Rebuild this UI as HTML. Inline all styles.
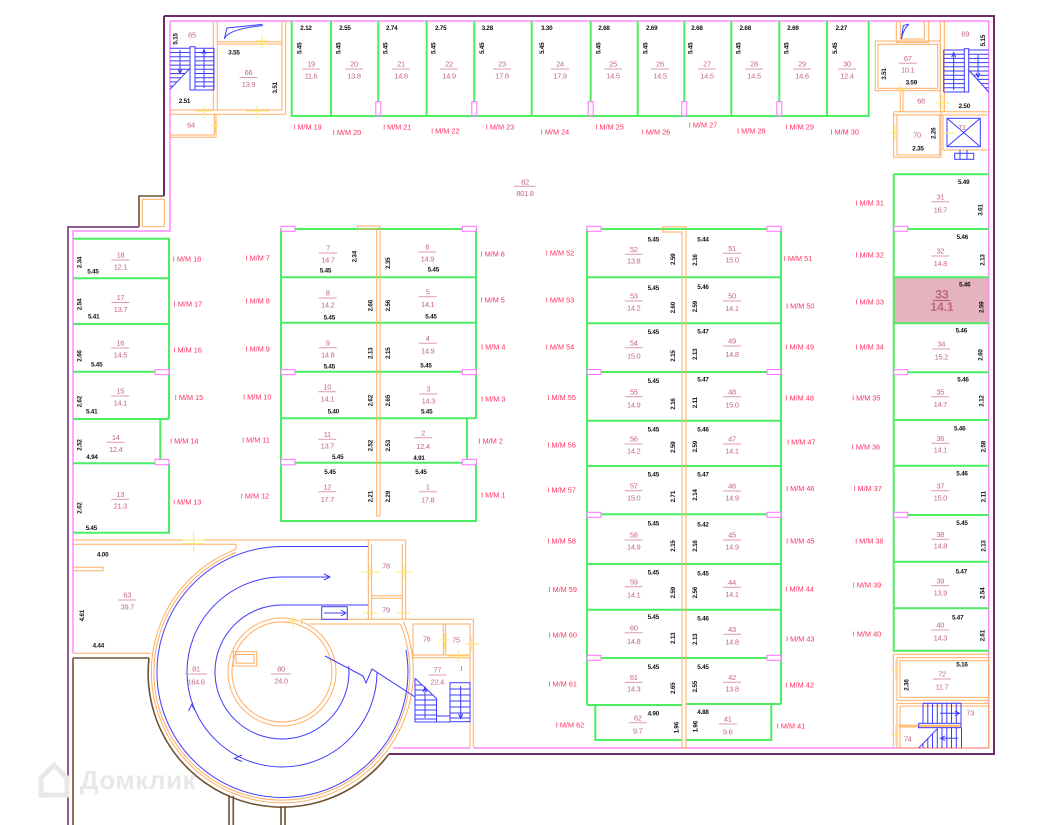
<!DOCTYPE html>
<html><head><meta charset="utf-8"><style>
html,body{margin:0;padding:0;background:#fff}
svg{display:block}
text{font-family:"Liberation Sans",Arial,sans-serif}
.n{font-size:7.5px;fill:#c4668a;text-anchor:middle;letter-spacing:-0.3px}
.m{font-size:7.3px;fill:#ff2d5f;text-anchor:middle}
.d{font-size:6.3px;font-weight:bold;fill:#111;text-anchor:middle;letter-spacing:-0.2px}
.L path{stroke:#dc9ab0;stroke-width:1;fill:none}
.g{stroke:#4ced63;stroke-width:2;fill:none}
.p{stroke:#ff88ff;stroke-width:1.5;fill:none}
.o{stroke:#ffae62;stroke-width:1;fill:none}
.b{stroke:#3c3cff;stroke-width:1;fill:none}
.y{stroke:#ffe870;stroke-width:1;fill:none}
.w{stroke:#6b2a64;stroke-width:2;fill:none}
.br{stroke:#6e5232;stroke-width:1.6;fill:none}
.pc{fill:#fff;stroke:#ff70ff;stroke-width:1}
</style></head><body>
<svg width="1037" height="825" viewBox="0 0 1037 825" xmlns="http://www.w3.org/2000/svg">
<rect width="1037" height="825" fill="#fff"/>

<!-- highlighted stall 33 -->
<rect x="893.7" y="277.3" width="95" height="46" fill="#e4b3bf"/>

<!-- outer walls -->
<path class="w" d="M164,16H994V754H389"/>
<path class="w" d="M164,16V196"/>
<path class="br" d="M164,196H139V227"/>
<path class="w" d="M139,227H68V825" style="stroke:#8e5f8e"/>
<path class="br" d="M149,658A134,134 0 0,0 389,754"/>
<path class="br" d="M73,658H149M73,658V825M229,795V825M233.3,796V825M281,806V825M285,806V825"/>

<!-- pink inner line -->
<path class="p" d="M170,21H988.7V748H474M470,748H393"/>
<path class="p" d="M170,21V231H73V653"/>

<!-- green stalls -->
<path class="g" d="M291.7,21V116H868.7V21M331,21V116M378.3,21V116M426.7,21V116M474.3,21V116M531.7,21V116M590.7,21V116M637.7,21V116M684.3,21V116M731.3,21V116M779.3,21V116M827,21V116"/>
<path class="g" d="M73,238.7H169V419M73,278.3H169M73,324H169M73,371.7H169M73,419H169M160.3,419V463.3M73,463.3H160.3M169,463.3V532.7H73"/>
<path class="g" d="M281,229H476V418.3M281,229V521H476V462.7M281,277.3H476M281,322.7H476M281,371.7H476M281,418.3H476M467,418.3V462.7M281,462.7H476"/>
<path class="g" d="M587,229H781V704M587,229V705M587,277.3H781M587,323.3H781M587,372H781M587,420.7H781M587,466H781M587,514.3H781M587,564H781M587,609.7H781M587,658H781M587,705H682M686,704H781M595.3,705V740H682M686,740H771.3V704"/>
<path class="g" d="M893.7,174.3H988.7M893.7,174.3V650.7H988.7M893.7,229H988.7M893.7,277.3H988.7M893.7,323.3H988.7M893.7,372.3H988.7M893.7,420H988.7M893.7,465.7H988.7M893.7,515H988.7M893.7,561.7H988.7M893.7,608.3H988.7"/>

<!-- orange center walls -->
<path class="o" fill="#fff" d="M357.7,229.3V226H380V516H376.7V229.3Z"/>
<path class="o" fill="#fff" d="M662.7,232V226.7H686V748H682V232Z"/>

<!-- pink columns -->
<g class="pc">
<rect x="155" y="369.7" width="14" height="5"/><rect x="155" y="459.3" width="14" height="5.5"/>
<rect x="281" y="226.3" width="14" height="5"/><rect x="462.3" y="226.3" width="14" height="5"/>
<rect x="281" y="369.7" width="14" height="5"/><rect x="281" y="459.3" width="14" height="5.5"/>
<rect x="462.3" y="369.7" width="14" height="5"/><rect x="462.3" y="459.3" width="14" height="5.5"/>
<rect x="587" y="226.3" width="14" height="5"/><rect x="767" y="226.3" width="14" height="5"/>
<rect x="587" y="369.5" width="14" height="5"/><rect x="767" y="369.5" width="14" height="5"/>
<rect x="587" y="512.3" width="14" height="5"/><rect x="767" y="512.3" width="14" height="5"/>
<rect x="587" y="655.3" width="14" height="5"/><rect x="767" y="655.3" width="14" height="5"/>
<rect x="893.7" y="226.3" width="14" height="5"/><rect x="893.7" y="369.7" width="14" height="5"/><rect x="893.7" y="512.3" width="14" height="5"/>
<rect x="375.8" y="101.7" width="5" height="14"/><rect x="471.8" y="101.7" width="5" height="14"/>
<rect x="588.2" y="101.7" width="5" height="14"/><rect x="681.8" y="101.7" width="5" height="14"/><rect x="776.8" y="101.7" width="5" height="14"/>
</g>

<!-- top-left rooms -->
<path class="o" d="M213.3,21V110M217.3,21V110M170,110H282M170,114.3H285.7M285.7,21V114.3M282,21V110M217.3,41.7H282M217.3,44H282M170,135H214.3V114.3M170,137.3H216V114.3"/>
<rect class="o" x="142.3" y="199.3" width="22" height="27.4"/>
<path class="b" d="M224.3,39L227,28L262.7,24.3M224.3,39Q228,29 262.7,25.6"/>
<!-- stairs 65 -->
<g class="b">
<path d="M170,48.3H190M170,52.5H190M170,56.7H190M170,60.9H190M170,65.1H190M170,69.3H189M170,73.5H185M170,77.7H181M170,81.9H177M170,86.1H173M170,89.3L190,68.3"/>
<rect x="190" y="46.7" width="5" height="43.3"/>
<path d="M195,48.3H214M195,52.5H214M195,56.7H214M195,60.9H214M195,65.1H214M195,69.3H214M195,73.5H214M195,77.7H214M195,81.9H214M195,86.1H214M195,90H214M214,48.3V90M195,48.3V90"/>
<path d="M180,50V73M178,69L180,73.5L182,69M204,88V50M202,54L204,49.5L206,54"/>
</g>

<!-- top-right rooms -->
<path class="o" d="M896.3,21V42.3H928.7V21M900.3,21V39H924.3V21M940.3,21V111.7M944.3,21V111.7M900.3,90.7V111.7M903,90.7V111.7M893.7,111.7H988.7M893.7,115H988.7M893.7,111.7V157.3H941V111.7M943,115V150H988.7"/>
<rect class="o" x="875.3" y="41" width="65" height="49.7"/>
<rect class="o" x="878" y="44.3" width="59.7" height="44"/>
<rect class="o" x="897" y="115" width="42.7" height="40"/>
<path class="b" d="M901.3,39L903.3,25.7L908.7,24M901.3,39Q904,28 908.7,24.6"/>
<g class="b">
<rect x="947" y="118.3" width="33.3" height="28.4"/>
<path d="M947,118.3L980.3,146.7M980.3,118.3L947,146.7"/>
<rect x="954.7" y="153.3" width="19" height="6"/>
<path d="M960,150V159M967,150V159"/>
</g>
<!-- stairs 69 -->
<g class="b">
<path d="M943.7,50H964.3M943.7,54.2H964.3M943.7,58.4H964.3M943.7,62.6H964.3M943.7,66.8H964.3M943.7,71H964.3M943.7,75.2H964.3M943.7,79.4H964.3M943.7,83.6H964.3M943.7,87.8H964.3M943.7,92H964.3M943.7,50V92"/>
<rect x="964.3" y="48.7" width="4.4" height="43.3"/>
<path d="M968.7,50H988.7M968.7,54.2H988.7M968.7,58.4H988.7M968.7,62.6H988.7M968.7,66.8H988.7M969.6,71H988.7M973.5,75.2H988.7M977.4,79.4H988.7M981.2,83.6H988.7M985.1,87.8H988.7M968.7,70L988.7,92"/>
<path d="M953.7,90V53M951.7,57L953.7,52.5L955.7,57M978,55V77M976,73L978,77.5L980,73"/>
</g>

<!-- bottom-right rooms -->
<path class="o" d="M893.3,654.3H988.7M893.3,654.3V748M900,706V748M900,706H988.7"/>
<rect class="o" x="897" y="657.7" width="91.7" height="42.6"/>
<rect class="o" x="900" y="660.7" width="88.7" height="36.6"/>
<rect class="o" x="897" y="703.3" width="91.7" height="44.7"/>
<rect x="898.7" y="724.6" width="62.3" height="3" fill="#ffbd78"/>
<g class="b">
<path d="M923,703.3H961V723.3M923,703.3V723.3M927.8,703.3V723.3M932.5,703.3V723.3M937.3,703.3V723.3M942,703.3V723.3M946.8,703.3V723.3M951.5,703.3V723.3M956.3,703.3V723.3"/>
<rect x="918.7" y="723.3" width="42.3" height="4.4"/>
<path d="M918.7,748L937.7,728.3M923,743.5V748M927.8,738.6V748M932.5,733.7V748M937.3,728.7V748M942,727.7V748M946.8,727.7V748M951.5,727.7V748M956.3,727.7V748M961.5,727.7V748"/>
<path d="M940,713.3H959M955,711L959.5,713.3L955,715.6M958,738.3H941M945,736L940.5,738.3L945,740.6"/>
</g>

<!-- bottom-left: room 63, ring, 75-79 -->
<path class="o" d="M73,540H405.7M73,544.3H236V549.3M73,653.3H151M73,567.3H103V570.7H73"/>
<path class="o" d="M368.3,540V619.3M371.7,544.3V619.3M402.3,544.3V619.3M405.7,540V619.3M371.7,595.7H402.3M371.7,598.3H402.3"/>
<path class="o" d="M301.7,624V619.3H473.3V748M309.3,624H400.5M413,624H470V748M413,624V659M443.3,624V655M445.7,624V655M413,655H470M413,657.7H470"/>
<path class="o" d="M236,549.3A131,131 0 1,0 403.5,622"/>
<path class="o" d="M236,552.6A128,128 0 1,0 400.5,624"/>
<circle class="o" cx="282" cy="672" r="54"/>
<circle class="o" cx="282" cy="672" r="50"/>
<rect class="o" x="233.3" y="651.7" width="23.4" height="14.3"/>
<rect class="o" x="236" y="654.5" width="18" height="8.7"/>
<!-- ramp arrows -->
<g class="b">
<path d="M368,546.5H282A125.5,125.5 0 1,0 406,650"/>
<path d="M330,577H282A95,95 0 1,0 377,672"/>
<path d="M324,574L330,577L324,580"/>
<path d="M368,605H282A67,67 0 1,0 348.7,666"/>
<rect x="321.7" y="606.7" width="25.6" height="12.6"/>
<path d="M324,613H346M341,610L346,613L341,616"/>
<path d="M325,656L363,676L366,683L372,669L415,697"/>
<path d="M188.5,711L191.7,704.5L194.5,710M242,755L234.5,758.5L242,761.5"/>
</g>
<!-- stairs 77 -->
<g class="b">
<path d="M415,678.3L436.5,698.5V722H415V678.3M415,685H422M415,690H427.5M415,695H432.8M415,700H436.5M415,705H436.5M415,710H436.5M415,715H436.5M415,719H436.5"/>
<path d="M425,718V688M423,692L425,687L427,692"/>
<rect x="450" y="682.7" width="20" height="39"/>
<path d="M450,689H470M450,695H470M450,701H470M450,707H470M450,713H470M450,718H470M436.5,716H450M436.5,722H450"/>
<path d="M460.7,686V718M458.7,714L460.7,718.5L462.7,714"/>
</g>

<!-- yellow door marks -->
<path class="y" d="M255,41H268M255,43.5H268M262,36V48M196,111H213M204,106V118M246,111H270M257,106V118M211,126H219M215,121V132M895,89H905M900,84V95M935,103H950M942,95V112M889,133H900M895,125V140M940,133H955M891,670H900M895.7,660V680M891,735H900M895.7,725V745M361,572H380M395,572H413M370,566V578M404,566V578M363,613H378M397,613H410M286.7,621H301.7M293,616V628M440,640H450M444.5,633V650M465,644H480M471.8,635V652M448,656H468M458,650V662M183,540H204M183,543.5H204M193.7,531V553"/>

<!-- watermark -->
<path d="M41,795V778L54,765L67,778V795Z" fill="none" stroke="#e8e8e8" stroke-width="5"/>
<text x="80" y="789" style="font-size:26px;font-weight:bold;fill:#e8e8e8;letter-spacing:0.5px">Домклик</text>

<!-- ============ TEXT ============ -->
<!-- stall labels -->
<g class="L">
<g transform="translate(311,64)"><text class="n" y="2.7">19</text><path d="M-9,5h18"/><text class="n" y="14.7">11.6</text></g>
<g transform="translate(354,64)"><text class="n" y="2.7">20</text><path d="M-9,5h18"/><text class="n" y="14.7">13.8</text></g>
<g transform="translate(401,64)"><text class="n" y="2.7">21</text><path d="M-9,5h18"/><text class="n" y="14.7">14.8</text></g>
<g transform="translate(449,64)"><text class="n" y="2.7">22</text><path d="M-9,5h18"/><text class="n" y="14.7">14.9</text></g>
<g transform="translate(502,64)"><text class="n" y="2.7">23</text><path d="M-9,5h18"/><text class="n" y="14.7">17.8</text></g>
<g transform="translate(560,64)"><text class="n" y="2.7">24</text><path d="M-9,5h18"/><text class="n" y="14.7">17.9</text></g>
<g transform="translate(613,64)"><text class="n" y="2.7">25</text><path d="M-9,5h18"/><text class="n" y="14.7">14.5</text></g>
<g transform="translate(660,64)"><text class="n" y="2.7">26</text><path d="M-9,5h18"/><text class="n" y="14.7">14.5</text></g>
<g transform="translate(707,64)"><text class="n" y="2.7">27</text><path d="M-9,5h18"/><text class="n" y="14.7">14.5</text></g>
<g transform="translate(754,64)"><text class="n" y="2.7">28</text><path d="M-9,5h18"/><text class="n" y="14.7">14.5</text></g>
<g transform="translate(802,64)"><text class="n" y="2.7">29</text><path d="M-9,5h18"/><text class="n" y="14.7">14.6</text></g>
<g transform="translate(847,64)"><text class="n" y="2.7">30</text><path d="M-9,5h18"/><text class="n" y="14.7">12.4</text></g>

<g transform="translate(120.5,255)"><text class="n" y="2.7">18</text><path d="M-9,5h18"/><text class="n" y="14.7">12.1</text></g>
<g transform="translate(120.5,297.5)"><text class="n" y="2.7">17</text><path d="M-9,5h18"/><text class="n" y="14.7">13.7</text></g>
<g transform="translate(120.3,343)"><text class="n" y="2.7">16</text><path d="M-9,5h18"/><text class="n" y="14.7">14.5</text></g>
<g transform="translate(120.3,391)"><text class="n" y="2.7">15</text><path d="M-9,5h18"/><text class="n" y="14.4">14.1</text></g>
<g transform="translate(115.7,437.3)"><text class="n" y="2.7">14</text><path d="M-9,5h18"/><text class="n" y="14.7">12.4</text></g>
<g transform="translate(120.3,494.3)"><text class="n" y="2.7">13</text><path d="M-9,5h18"/><text class="n" y="14.1">21.3</text></g>

<g transform="translate(328,248)"><text class="n" y="2.7">7</text><path d="M-9,5h18"/><text class="n" y="14.7">14.7</text></g>
<g transform="translate(327.7,293)"><text class="n" y="2.7">8</text><path d="M-9,5h18"/><text class="n" y="14.7">14.2</text></g>
<g transform="translate(327.7,342.7)"><text class="n" y="2.7">9</text><path d="M-9,5h18"/><text class="n" y="15">14.8</text></g>
<g transform="translate(327.3,386.7)"><text class="n" y="2.7">10</text><path d="M-9,5h18"/><text class="n" y="15">14.1</text></g>
<g transform="translate(327.3,434.3)"><text class="n" y="2.7">11</text><path d="M-9,5h18"/><text class="n" y="14.4">13.7</text></g>
<g transform="translate(327.3,486.7)"><text class="n" y="2.7">12</text><path d="M-9,5h18"/><text class="n" y="15.3">17.7</text></g>
<g transform="translate(427.3,247)"><text class="n" y="2.7">6</text><path d="M-9,5h18"/><text class="n" y="14.7">14.9</text></g>
<g transform="translate(427.7,291.7)"><text class="n" y="2.7">5</text><path d="M-9,5h18"/><text class="n" y="15.3">14.1</text></g>
<g transform="translate(427.7,338.3)"><text class="n" y="2.7">4</text><path d="M-9,5h18"/><text class="n" y="15.4">14.9</text></g>
<g transform="translate(428.3,389)"><text class="n" y="2.7">3</text><path d="M-9,5h18"/><text class="n" y="14.7">14.3</text></g>
<g transform="translate(423,432.7)"><text class="n" y="2.7">2</text><path d="M-9,5h18"/><text class="n" y="16.3">12.4</text></g>
<g transform="translate(427.7,486.7)"><text class="n" y="2.7">1</text><path d="M-9,5h18"/><text class="n" y="16">17.8</text></g>

<g transform="translate(633.7,249.3)"><text class="n" y="2.7">52</text><path d="M-9,5h18"/><text class="n" y="14.4">13.8</text></g>
<g transform="translate(633.7,296)"><text class="n" y="2.7">53</text><path d="M-9,5h18"/><text class="n" y="14.4">14.2</text></g>
<g transform="translate(633.7,342.7)"><text class="n" y="2.7">54</text><path d="M-9,5h18"/><text class="n" y="16">15.0</text></g>
<g transform="translate(633.7,391.7)"><text class="n" y="2.7">55</text><path d="M-9,5h18"/><text class="n" y="16">14.9</text></g>
<g transform="translate(633.7,439)"><text class="n" y="2.7">56</text><path d="M-9,5h18"/><text class="n" y="14.7">14.2</text></g>
<g transform="translate(633.7,485.7)"><text class="n" y="2.7">57</text><path d="M-9,5h18"/><text class="n" y="15">15.0</text></g>
<g transform="translate(633.7,535)"><text class="n" y="2.7">58</text><path d="M-9,5h18"/><text class="n" y="14.4">14.9</text></g>
<g transform="translate(633.7,581.7)"><text class="n" y="2.7">59</text><path d="M-9,5h18"/><text class="n" y="16">14.1</text></g>
<g transform="translate(633.7,627.7)"><text class="n" y="2.7">60</text><path d="M-9,5h18"/><text class="n" y="16.3">14.8</text></g>
<g transform="translate(633.7,677.3)"><text class="n" y="2.7">61</text><path d="M-9,5h18"/><text class="n" y="14.4">14.3</text></g>
<g transform="translate(637.7,717.7)"><text class="n" y="2.7">62</text><path d="M-9,5h18"/><text class="n" y="15.7">9.7</text></g>

<g transform="translate(732,248.3)"><text class="n" y="2.7">51</text><path d="M-9,5h18"/><text class="n" y="14.4">15.0</text></g>
<g transform="translate(732,296)"><text class="n" y="2.7">50</text><path d="M-9,5h18"/><text class="n" y="15">14.1</text></g>
<g transform="translate(732,341)"><text class="n" y="2.7">49</text><path d="M-9,5h18"/><text class="n" y="16">14.8</text></g>
<g transform="translate(732,391.7)"><text class="n" y="2.7">48</text><path d="M-9,5h18"/><text class="n" y="16">15.0</text></g>
<g transform="translate(732,439)"><text class="n" y="2.7">47</text><path d="M-9,5h18"/><text class="n" y="14.7">14.1</text></g>
<g transform="translate(732,486)"><text class="n" y="2.7">46</text><path d="M-9,5h18"/><text class="n" y="14.4">14.9</text></g>
<g transform="translate(732,535)"><text class="n" y="2.7">45</text><path d="M-9,5h18"/><text class="n" y="14.4">14.9</text></g>
<g transform="translate(732,582.3)"><text class="n" y="2.7">44</text><path d="M-9,5h18"/><text class="n" y="14.7">14.1</text></g>
<g transform="translate(732,629.3)"><text class="n" y="2.7">43</text><path d="M-9,5h18"/><text class="n" y="15">14.8</text></g>
<g transform="translate(732,677.3)"><text class="n" y="2.7">42</text><path d="M-9,5h18"/><text class="n" y="14.4">13.8</text></g>
<g transform="translate(727.7,719)"><text class="n" y="2.7">41</text><path d="M-9,5h18"/><text class="n" y="15.4">9.6</text></g>

<g transform="translate(940.3,196.7)"><text class="n" y="2.7">31</text><path d="M-9,5h18"/><text class="n" y="16">16.7</text></g>
<g transform="translate(940.3,251)"><text class="n" y="2.7">32</text><path d="M-9,5h18"/><text class="n" y="15">14.8</text></g>
<g transform="translate(941.3,344)"><text class="n" y="2.7">34</text><path d="M-9,5h18"/><text class="n" y="15.4">15.2</text></g>
<g transform="translate(940.3,391.7)"><text class="n" y="2.7">35</text><path d="M-9,5h18"/><text class="n" y="15.3">14.7</text></g>
<g transform="translate(940.3,438.3)"><text class="n" y="2.7">36</text><path d="M-9,5h18"/><text class="n" y="14.4">14.1</text></g>
<g transform="translate(940.3,485.7)"><text class="n" y="2.7">37</text><path d="M-9,5h18"/><text class="n" y="14.7">15.0</text></g>
<g transform="translate(940.3,534.3)"><text class="n" y="2.7">38</text><path d="M-9,5h18"/><text class="n" y="14.1">14.8</text></g>
<g transform="translate(940.3,580.7)"><text class="n" y="2.7">39</text><path d="M-9,5h18"/><text class="n" y="14.7">13.9</text></g>
<g transform="translate(940.3,625)"><text class="n" y="2.7">40</text><path d="M-9,5h18"/><text class="n" y="15.4">14.3</text></g>

<g transform="translate(248.5,72.5)"><text class="n" y="2.7">66</text><path d="M-9,5h18"/><text class="n" y="14.7">13.9</text></g>
<g transform="translate(907.7,58.3)"><text class="n" y="2.7">67</text><path d="M-9,5h18"/><text class="n" y="14.4">10.1</text></g>
<g transform="translate(942,674)"><text class="n" y="2.7">72</text><path d="M-9,5h18"/><text class="n" y="15.4">11.7</text></g>
<g transform="translate(437.3,670)"><text class="n" y="2.7">77</text><path d="M-9,5h18"/><text class="n" y="14.4">22.4</text></g>
<g transform="translate(127.3,595)"><text class="n" y="2.7">63</text><path d="M-9,5h18"/><text class="n" y="14.4">39.7</text></g>
<g transform="translate(196,669)"><text class="n" y="2.7">81</text><path d="M-11,5h22"/><text class="n" y="15.4">164.6</text></g>
<g transform="translate(281,669)"><text class="n" y="2.7">80</text><path d="M-10,5h20"/><text class="n" y="14.4">24.0</text></g>
<g transform="translate(525,181.7)"><text class="n" y="2.7">82</text><path d="M-11,4.5h22"/><text class="n" y="14.3">801.8</text></g>
</g>
<text x="942" y="298.6" style="font-size:12px;font-weight:bold;fill:#c26384;text-anchor:middle">33</text>
<path d="M932.7,300.5H950.3" stroke="#c26384" stroke-width="1.2"/>
<text x="942" y="311" style="font-size:12px;font-weight:bold;fill:#c26384;text-anchor:middle">14.1</text>

<!-- single room numbers -->
<g class="n">
<text x="192" y="37.7">65</text><text x="191" y="127.7">64</text><text x="921" y="103.4">68</text>
<text x="965.3" y="36.7">69</text><text x="917" y="137.7">70</text><text x="962" y="130">71</text>
<text x="970.3" y="715.4">73</text><text x="907.7" y="741.7">74</text><text x="456" y="642.7">75</text>
<text x="426.7" y="641.7">76</text><text x="386" y="568.7">78</text><text x="386" y="612.7">79</text>
</g>
<text x="461.3" y="671" style="font-size:7.3px;fill:#ff2d5f;text-anchor:middle">I</text>

<!-- I M/M labels -->
<g class="m">
<text x="307.5" y="129.3">I M/M 19</text><text x="347" y="135.1">I M/M 20</text><text x="397.3" y="129.6">I M/M 21</text>
<text x="445.3" y="133.6">I M/M 22</text><text x="500" y="129.6">I M/M 23</text><text x="555" y="134.6">I M/M 24</text>
<text x="609.7" y="129.6">I M/M 25</text><text x="656" y="134.6">I M/M 26</text><text x="703" y="127.6">I M/M 27</text>
<text x="751.3" y="133.6">I M/M 28</text><text x="799.7" y="129.6">I M/M 29</text><text x="844.7" y="134.6">I M/M 30</text>
<text x="187" y="261.6">I M/M 18</text><text x="188" y="306.6">I M/M 17</text><text x="187.7" y="352.6">I M/M 16</text>
<text x="189" y="399.9">I M/M 15</text><text x="184.3" y="443.6">I M/M 14</text><text x="187.3" y="504.3">I M/M 13</text>
<text x="257.7" y="260.6">I M/M 7</text><text x="257.7" y="303.6">I M/M 8</text><text x="257.7" y="351.3">I M/M 9</text>
<text x="257.3" y="399.6">I M/M 10</text><text x="256" y="442.6">I M/M 11</text><text x="255" y="498.3">I M/M 12</text>
<text x="492.7" y="256.6">I M/M 6</text><text x="492.7" y="302.6">I M/M 5</text><text x="493.3" y="349.3">I M/M 4</text>
<text x="493.3" y="401.6">I M/M 3</text><text x="490.7" y="443.3">I M/M 2</text><text x="493.3" y="497.6">I M/M 1</text>
<text x="560" y="255.3">I M/M 52</text><text x="560" y="302.6">I M/M 53</text><text x="560" y="349.3">I M/M 54</text>
<text x="561.7" y="399.9">I M/M 55</text><text x="561.7" y="447.6">I M/M 56</text><text x="561.7" y="492.6">I M/M 57</text>
<text x="561.7" y="543.6">I M/M 58</text><text x="562.7" y="591.9">I M/M 59</text><text x="562.7" y="637.6">I M/M 60</text>
<text x="562.7" y="686.6">I M/M 61</text><text x="570" y="727.6">I M/M 62</text>
<text x="798" y="260.9">I M/M 51</text><text x="800.3" y="308.6">I M/M 50</text><text x="799.7" y="349.3">I M/M 49</text>
<text x="799.7" y="400.3">I M/M 48</text><text x="801.3" y="444.3">I M/M 47</text><text x="800.3" y="490.9">I M/M 46</text>
<text x="800.3" y="543.6">I M/M 45</text><text x="799.7" y="591.6">I M/M 44</text><text x="800.3" y="641.6">I M/M 43</text>
<text x="799.7" y="687.6">I M/M 42</text><text x="791" y="728.6">I M/M 41</text>
<text x="869.7" y="205.3">I M/M 31</text><text x="869.7" y="257.6">I M/M 32</text><text x="869.7" y="304.3">I M/M 33</text>
<text x="869.7" y="349.3">I M/M 34</text><text x="866.3" y="400.3">I M/M 35</text><text x="866" y="449.6">I M/M 36</text>
<text x="867.7" y="490.9">I M/M 37</text><text x="869.3" y="543.6">I M/M 38</text><text x="867" y="587.6">I M/M 39</text>
<text x="867" y="636.6">I M/M 40</text>
</g>

<!-- horizontal dims -->
<g class="d">
<text x="306" y="30">2.12</text><text x="345" y="30">2.55</text><text x="391.7" y="30">2.74</text><text x="440.7" y="30">2.75</text>
<text x="487.3" y="30">3.28</text><text x="546.7" y="30">3.30</text><text x="604" y="30">2.68</text><text x="651.7" y="30">2.69</text>
<text x="697" y="30">2.68</text><text x="745.3" y="30">2.68</text><text x="793" y="30">2.69</text><text x="841.3" y="30">2.27</text>
<text x="234" y="54.3">3.55</text><text x="184.5" y="102.8">2.51</text><text x="911.3" y="84.6">3.59</text>
<text x="964.3" y="108">2.50</text><text x="918" y="150.6">2.35</text>
<text x="93" y="273.3">5.45</text><text x="93.7" y="318.3">5.41</text><text x="96.7" y="366.3">5.45</text>
<text x="91.7" y="413.3">5.41</text><text x="92" y="459">4.94</text><text x="91.3" y="530">5.45</text>
<text x="325.5" y="272.3">5.45</text><text x="329.3" y="319.3">5.45</text><text x="329.3" y="368.6">5.45</text>
<text x="333.3" y="413.3">5.40</text><text x="337.7" y="459">5.45</text><text x="330" y="474">5.45</text>
<text x="433.3" y="271.3">5.45</text><text x="431" y="318.6">5.45</text><text x="426" y="367.3">5.45</text>
<text x="426.7" y="413.3">5.45</text><text x="419" y="460">4.91</text><text x="421" y="474">5.45</text>
<text x="653.3" y="241.6">5.45</text><text x="653.3" y="290">5.45</text><text x="653.3" y="334">5.45</text>
<text x="653.3" y="383">5.45</text><text x="653.3" y="431.6">5.45</text><text x="653.3" y="476.3">5.45</text>
<text x="653.3" y="525.6">5.45</text><text x="653.3" y="574.6">5.45</text><text x="653.3" y="619">5.45</text>
<text x="653.3" y="669">5.45</text><text x="653.3" y="715.6">4.90</text>
<text x="703" y="241.6">5.44</text><text x="703" y="289">5.46</text><text x="703" y="333.3">5.47</text>
<text x="703" y="381.6">5.47</text><text x="703" y="431.6">5.46</text><text x="703" y="476.6">5.47</text>
<text x="703" y="526.6">5.42</text><text x="703" y="575.6">5.45</text><text x="703" y="620.6">5.46</text>
<text x="703" y="669">5.45</text><text x="703" y="714">4.88</text>
<text x="963.7" y="184">5.49</text><text x="962.3" y="239">5.46</text><text x="964.7" y="286.6">5.46</text>
<text x="961.3" y="332.3">5.46</text><text x="963" y="381.6">5.46</text><text x="959.7" y="430.6">5.46</text>
<text x="962" y="475.6">5.46</text><text x="962" y="525">5.45</text><text x="961.3" y="573.3">5.47</text>
<text x="957.7" y="619.6">5.47</text><text x="962" y="666.6">5.16</text>
<text x="102.7" y="556.6">4.00</text><text x="98.3" y="647.3">4.44</text>
</g>

<!-- rotated dims -->
<g class="d">
<text transform="translate(301.6,48.3) rotate(-90)">5.45</text>
<text transform="translate(340.6,48.3) rotate(-90)">5.45</text>
<text transform="translate(387.3,48.3) rotate(-90)">5.45</text>
<text transform="translate(435.6,48.3) rotate(-90)">5.45</text>
<text transform="translate(484,48.3) rotate(-90)">5.45</text>
<text transform="translate(544,48.3) rotate(-90)">5.45</text>
<text transform="translate(600.6,48.3) rotate(-90)">5.45</text>
<text transform="translate(647.3,48.3) rotate(-90)">5.45</text>
<text transform="translate(692.6,48.3) rotate(-90)">5.45</text>
<text transform="translate(740.3,48.3) rotate(-90)">5.45</text>
<text transform="translate(788.3,48.3) rotate(-90)">5.45</text>
<text transform="translate(837,48.3) rotate(-90)">5.45</text>
<text transform="translate(177.3,39) rotate(-90)">5.15</text>
<text transform="translate(277,87.8) rotate(-90)">3.51</text>
<text transform="translate(886,74) rotate(-90)">3.51</text>
<text transform="translate(985,40.7) rotate(-90)">5.15</text>
<text transform="translate(935.3,133.3) rotate(-90)">2.26</text>
<text transform="translate(81.3,262.5) rotate(-90)">2.34</text>
<text transform="translate(81.3,304.5) rotate(-90)">2.54</text>
<text transform="translate(81.3,356) rotate(-90)">2.66</text>
<text transform="translate(81.3,401.7) rotate(-90)">2.62</text>
<text transform="translate(81.3,445) rotate(-90)">2.52</text>
<text transform="translate(81.3,508) rotate(-90)">2.62</text>
<text transform="translate(356.6,256.7) rotate(-90)">2.34</text>
<text transform="translate(372.3,305.7) rotate(-90)">2.66</text>
<text transform="translate(372.3,353.3) rotate(-90)">2.13</text>
<text transform="translate(372.3,400.7) rotate(-90)">2.62</text>
<text transform="translate(372.3,445.7) rotate(-90)">2.52</text>
<text transform="translate(372.3,496.7) rotate(-90)">2.21</text>
<text transform="translate(389.8,263.3) rotate(-90)">2.35</text>
<text transform="translate(389.8,305.7) rotate(-90)">2.56</text>
<text transform="translate(389.8,353.3) rotate(-90)">2.15</text>
<text transform="translate(389.8,400.7) rotate(-90)">2.65</text>
<text transform="translate(389.8,445.7) rotate(-90)">2.53</text>
<text transform="translate(389.8,496.7) rotate(-90)">2.29</text>
<text transform="translate(675,259.3) rotate(-90)">2.59</text>
<text transform="translate(675,307.7) rotate(-90)">2.60</text>
<text transform="translate(675,356) rotate(-90)">2.15</text>
<text transform="translate(675,404) rotate(-90)">2.16</text>
<text transform="translate(675,447.3) rotate(-90)">2.59</text>
<text transform="translate(675,496.7) rotate(-90)">2.71</text>
<text transform="translate(675,546) rotate(-90)">2.15</text>
<text transform="translate(675,592.7) rotate(-90)">2.59</text>
<text transform="translate(675,638.3) rotate(-90)">2.13</text>
<text transform="translate(675,688.3) rotate(-90)">2.65</text>
<text transform="translate(678.3,727.7) rotate(-90)">1.96</text>
<text transform="translate(696.8,260) rotate(-90)">2.16</text>
<text transform="translate(696.8,306.7) rotate(-90)">2.59</text>
<text transform="translate(696.8,354.3) rotate(-90)">2.13</text>
<text transform="translate(696.8,402.7) rotate(-90)">2.11</text>
<text transform="translate(696.8,446.7) rotate(-90)">2.59</text>
<text transform="translate(696.8,495) rotate(-90)">2.14</text>
<text transform="translate(696.8,546) rotate(-90)">2.16</text>
<text transform="translate(696.8,592.7) rotate(-90)">2.56</text>
<text transform="translate(696.8,639.3) rotate(-90)">2.13</text>
<text transform="translate(696.8,686.7) rotate(-90)">2.55</text>
<text transform="translate(697.6,726.7) rotate(-90)">1.96</text>
<text transform="translate(982.6,210) rotate(-90)">3.61</text>
<text transform="translate(984.3,260) rotate(-90)">2.13</text>
<text transform="translate(983.6,307.3) rotate(-90)">2.59</text>
<text transform="translate(982.6,355) rotate(-90)">2.60</text>
<text transform="translate(983.6,401) rotate(-90)">2.12</text>
<text transform="translate(985.3,446.7) rotate(-90)">2.58</text>
<text transform="translate(985.3,496.7) rotate(-90)">2.11</text>
<text transform="translate(985.3,546) rotate(-90)">2.13</text>
<text transform="translate(984.3,593.3) rotate(-90)">2.54</text>
<text transform="translate(984.3,635.7) rotate(-90)">2.61</text>
<text transform="translate(908.6,685) rotate(-90)">2.36</text>
<text transform="translate(84,615.7) rotate(-90)">4.61</text>
</g>
</svg>
</body></html>
